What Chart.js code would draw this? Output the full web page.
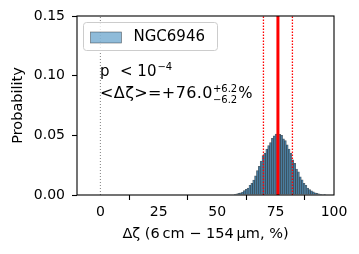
<!DOCTYPE html>
<html>
<head>
<meta charset="utf-8">
<script src="https://cdn.jsdelivr.net/npm/chart.js@4/dist/chart.umd.min.js"></script>
<style>
html,body{margin:0;padding:0;background:#fff;}
#c{display:block;}
</style>
</head>
<body>
<canvas id="c" width="359" height="254"></canvas>
<script>
// ---- data ----
const binCenters = [57.6,58.4,59.2,60.0,60.8,61.6,62.4,63.2,64.0,64.8,65.6,66.4,67.2,68.0,68.8,69.6,70.4,71.2,72.0,72.8,73.6,74.4,75.2,76.0,76.8,77.6,78.4,79.2,80.0,80.8,81.6,82.4,83.2,84.0,84.8,85.6,86.4,87.2,88.0,88.8,89.6,90.4,91.2,92.0,92.8,93.6,94.4,95.2,96.0];
const probabilities = [0.0006,0.0009,0.0013,0.0019,0.0024,0.0036,0.0047,0.0058,0.0082,0.0098,0.0124,0.0160,0.0205,0.0240,0.0285,0.0330,0.0350,0.0385,0.0415,0.0440,0.0475,0.0495,0.0510,0.0514,0.0508,0.0500,0.0470,0.0455,0.0420,0.0385,0.0350,0.0295,0.0265,0.0218,0.0195,0.0152,0.0128,0.0098,0.0080,0.0058,0.0046,0.0034,0.0026,0.0018,0.0013,0.0009,0.0006,0.0004,0.0002];
const seriesName = 'NGC6946';
const zeroLine = 0;
const meanValue = 76.0;
const lowerBound = 69.8;
const upperBound = 82.2;
const xTicks = [0,25,50,75,100];
const yTicks = [0.00,0.05,0.10,0.15];
const xRange = [-10,100];
const yRange = [0,0.15];

const FONT = "'DejaVu Sans', sans-serif";
Chart.defaults.font.family = FONT;
Chart.defaults.color = '#000';

const histData = binCenters.map((x,i)=>({x:x, y:probabilities[i]}));
const vline = v => [{x:v,y:yRange[0]},{x:v,y:yRange[1]}];

const annot = {
  id:'annot',
  afterDraw(chart){
    const ctx = chart.ctx, a = chart.chartArea;
    ctx.save();
    // frame
    ctx.strokeStyle = '#000'; ctx.lineWidth = 1.1;
    ctx.strokeRect(a.left, a.top, a.right-a.left, a.bottom-a.top);
    // legend
    const lx = a.left+6.5, ly = a.top+6.5, lw = 134, lh = 28, r = 3;
    ctx.beginPath();
    ctx.moveTo(lx+r,ly); ctx.lineTo(lx+lw-r,ly); ctx.quadraticCurveTo(lx+lw,ly,lx+lw,ly+r);
    ctx.lineTo(lx+lw,ly+lh-r); ctx.quadraticCurveTo(lx+lw,ly+lh,lx+lw-r,ly+lh);
    ctx.lineTo(lx+r,ly+lh); ctx.quadraticCurveTo(lx,ly+lh,lx,ly+lh-r);
    ctx.lineTo(lx,ly+r); ctx.quadraticCurveTo(lx,ly,lx+r,ly);
    ctx.closePath();
    ctx.fillStyle='rgba(255,255,255,0.8)'; ctx.fill();
    ctx.strokeStyle='#cccccc'; ctx.lineWidth=1; ctx.stroke();
    ctx.fillStyle='rgba(31,119,180,0.5)';
    ctx.fillRect(lx+7, ly+9.5, 31, 11);
    ctx.strokeStyle='rgba(0,0,0,0.5)'; ctx.lineWidth=0.7;
    ctx.strokeRect(lx+7, ly+9.5, 31, 11);
    ctx.fillStyle='#000';
    ctx.font = '15px '+FONT; ctx.textBaseline='middle'; ctx.textAlign='left';
    ctx.fillText(seriesName, lx+50, ly+15);
    // text annotations
    ctx.textBaseline='alphabetic';
    const tx = a.left+23;
    let y1 = a.top+60;
    ctx.font = '15px '+FONT;
    ctx.fillText('p', tx, y1);
    let s = '< 10';
    ctx.fillText(s, tx+20, y1);
    let w = 20 + ctx.measureText(s).width;
    ctx.font = '10px '+FONT;
    ctx.fillText('\u22124', tx+w+1, y1-6);
    let y2 = a.top+82;
    ctx.font = '16px '+FONT;
    ctx.letterSpacing = '0.4px';
    s = '<\u0394\u03b6>=+76.0';
    ctx.fillText(s, tx, y2);
    w = ctx.measureText(s).width;
    ctx.letterSpacing = '0px';
    ctx.font = '10px '+FONT;
    ctx.fillText('+6.2', tx+w, y2-6);
    ctx.fillText('\u22126.2', tx+w, y2+4.5);
    const w2 = ctx.measureText('\u22126.2').width;
    ctx.font = '15px '+FONT;
    ctx.fillText('%', tx+w+w2+1, y2);
    ctx.restore();
  }
};

new Chart(document.getElementById('c'), {
  type:'bar',
  data:{
    datasets:[
      {type:'bar', label:seriesName, data:histData, backgroundColor:'rgba(31,119,180,0.58)', borderColor:'rgba(0,0,0,0.62)', borderWidth:0.5, barPercentage:1, categoryPercentage:1, order:5},
      {type:'line', data:vline(zeroLine), borderColor:'#808080', borderWidth:1, borderDash:[1,2], pointRadius:0, order:1},
      {type:'line', data:vline(meanValue), borderColor:'#ff0000', borderWidth:3, pointRadius:0, order:1},
      {type:'line', data:vline(lowerBound), borderColor:'#ff0000', borderWidth:1.3, borderDash:[1.5,1.5], pointRadius:0, order:1},
      {type:'line', data:vline(upperBound), borderColor:'#ff0000', borderWidth:1.3, borderDash:[1.5,1.5], pointRadius:0, order:1}
    ]
  },
  options:{
    responsive:false, animation:false, devicePixelRatio:1,
    layout:{padding:{top:16,right:25,left:0,bottom:0}},
    plugins:{legend:{display:false}, tooltip:{enabled:false}},
    scales:{
      x:{type:'linear', min:xRange[0], max:xRange[1], offset:false,
        afterFit(s){ s.height = 59; },
        afterBuildTicks(s){ s.ticks = xTicks.map(v=>({value:v})); },
        grid:{drawOnChartArea:false, drawTicks:true, tickLength:5, color:'#000', tickWidth:1.1},
        border:{display:false},
        ticks:{font:{size:14}, padding:4, maxRotation:0, callback:v=>String(v)},
        title:{display:true, text:'\u0394\u03b6 (6\u2009cm \u2212 154\u2009\u03bcm, %)', font:{size:14.5}, padding:{top:0,bottom:11}}
      },
      y:{min:yRange[0], max:yRange[1],
        afterFit(s){ s.width = 77; },
        afterBuildTicks(s){ s.ticks = yTicks.map(v=>({value:v})); },
        grid:{drawOnChartArea:false, drawTicks:true, tickLength:5, color:'#000', tickWidth:1.1},
        border:{display:false},
        ticks:{font:{size:14}, padding:7, callback:v=>Number(v).toFixed(2)},
        title:{display:true, text:'Probability', font:{size:14.5}, padding:{top:10,bottom:0}}
      }
    }
  },
  plugins:[annot]
});
</script>
</body>
</html>
